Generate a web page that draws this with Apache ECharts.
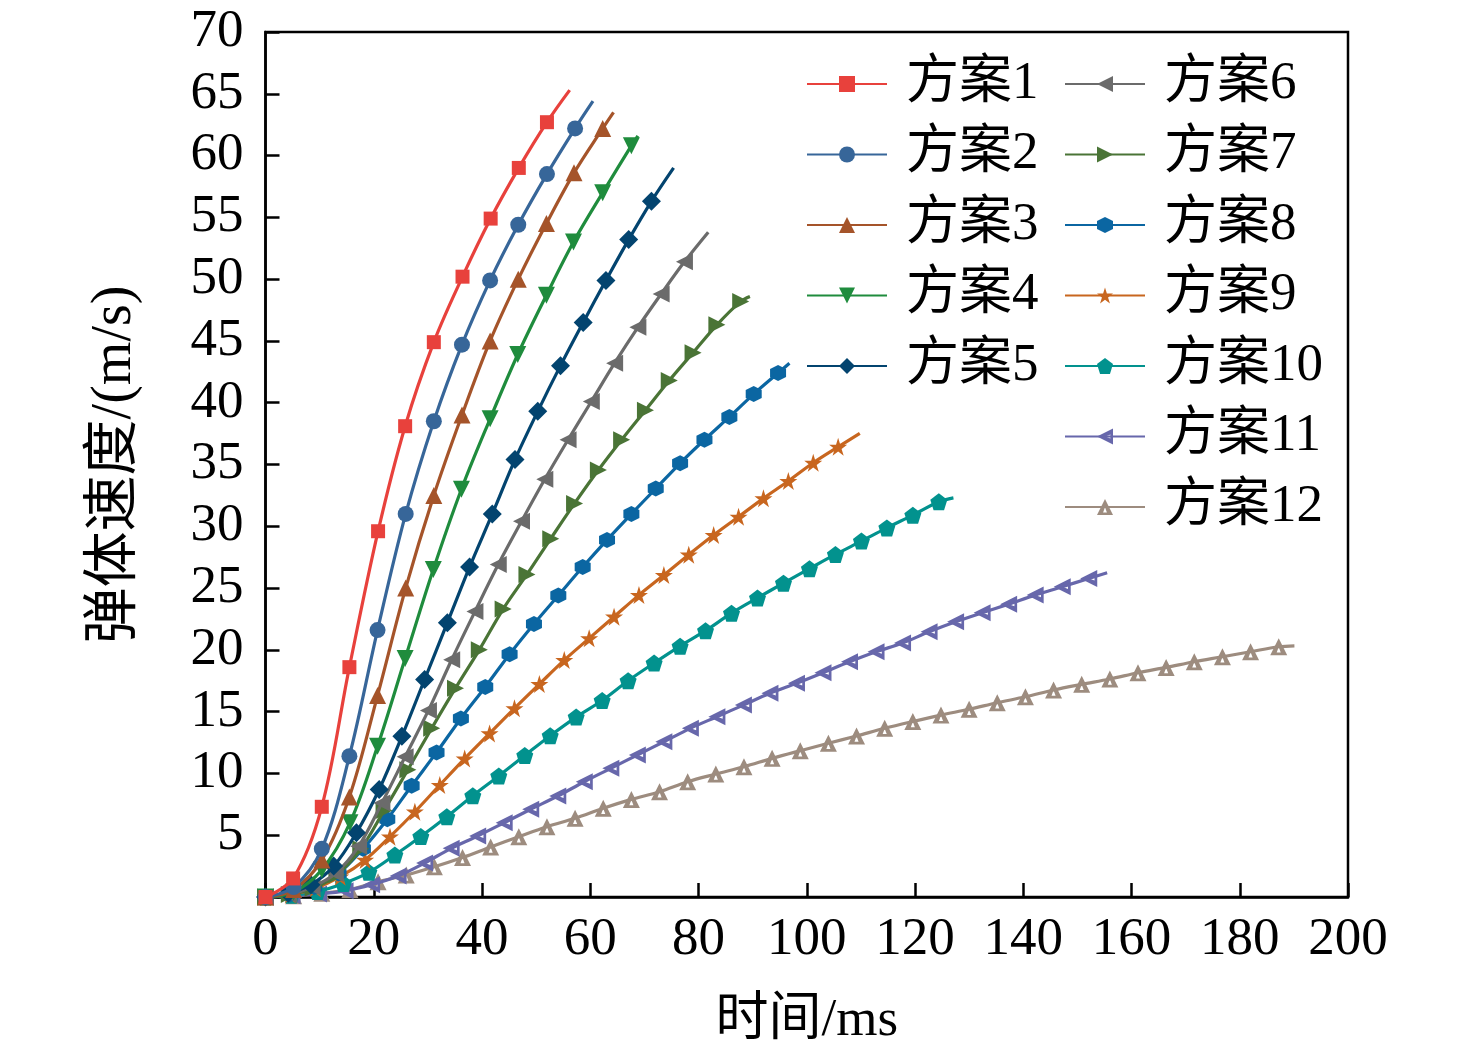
<!DOCTYPE html>
<html>
<head>
<meta charset="utf-8">
<script src="https://cdn.jsdelivr.net/npm/echarts@6/dist/echarts.min.js"></script>
<style>
  html, body { margin: 0; padding: 0; background: #fff; }
  #chart { width: 1476px; height: 1060px; }
</style>
</head>
<body>
<div id="chart"></div>
<script>
// time (ms) and velocity (m/s); last point of each list is the curve end (no marker)
const t1 = [0, 5.1, 10.4, 15.5, 20.8, 25.8, 31.1, 36.4, 41.6, 46.8, 52.0, 56.2];
const v1 = [0, 1.5, 7.3, 18.6, 29.6, 38.1, 44.9, 50.2, 54.9, 59.0, 62.7, 65.3];
const t2 = [0, 5.2, 10.4, 15.5, 20.7, 25.9, 31.1, 36.3, 41.5, 46.7, 52.0, 57.2, 60.5];
const v2 = [0, 0.8, 3.9, 11.4, 21.6, 31.0, 38.5, 44.7, 49.9, 54.4, 58.5, 62.2, 64.4];
const t3 = [0, 5.2, 10.4, 15.5, 20.7, 25.9, 31.1, 36.3, 41.5, 46.7, 51.9, 57.0, 62.3, 64.3];
const v3 = [0, 0.6, 3.0, 8.1, 16.3, 25.0, 32.5, 39.0, 45.0, 50.0, 54.5, 58.6, 62.2, 63.5];
const t4 = [0, 5.2, 10.4, 15.6, 20.7, 25.8, 31.0, 36.2, 41.5, 46.6, 51.9, 56.9, 62.3, 67.6, 68.8];
const v4 = [0, 0.4, 2.2, 6.0, 12.2, 19.3, 26.5, 33.0, 38.7, 43.9, 48.7, 53.0, 57.0, 60.8, 61.6];
const t5 = [0, 4.2, 8.4, 12.6, 16.8, 21.0, 25.2, 29.4, 33.6, 37.7, 41.9, 46.1, 50.3, 54.5, 58.7, 62.9, 67.1, 71.3, 75.4];
const v5 = [0, 0.3, 1.0, 2.5, 5.2, 8.7, 13.0, 17.6, 22.2, 26.7, 31.0, 35.4, 39.3, 43.0, 46.5, 49.9, 53.2, 56.3, 59.0];
const t6 = [0, 4.3, 8.6, 12.9, 17.2, 21.5, 25.8, 30.1, 34.4, 38.7, 43.0, 47.3, 51.6, 55.9, 60.2, 64.5, 68.8, 73.1, 77.4, 81.8];
const v6 = [0, 0.2, 0.8, 1.9, 4.1, 7.6, 11.35, 15.1, 19.2, 23.1, 26.9, 30.4, 33.8, 37.0, 40.1, 43.2, 46.1, 48.8, 51.4, 53.8];
const t7 = [0, 4.4, 8.8, 13.2, 17.6, 21.9, 26.3, 30.7, 35.1, 39.5, 43.9, 48.3, 52.7, 57.1, 61.5, 65.8, 70.2, 74.6, 79.0, 83.4, 87.8, 89.5];
const v7 = [0, 0.2, 0.7, 1.8, 3.9, 7.0, 10.3, 13.65, 16.9, 20.0, 23.3, 26.1, 29.0, 31.85, 34.55, 37.0, 39.4, 41.8, 44.05, 46.3, 48.2, 48.6];
const t8 = [0, 4.5, 9.0, 13.5, 18.0, 22.5, 27.0, 31.6, 36.1, 40.6, 45.1, 49.6, 54.1, 58.6, 63.1, 67.6, 72.1, 76.6, 81.1, 85.7, 90.2, 94.7, 96.8];
const v8 = [0, 0.2, 0.8, 1.9, 3.9, 6.3, 9.0, 11.7, 14.45, 17.0, 19.65, 22.1, 24.4, 26.7, 28.9, 31.0, 33.05, 35.1, 37.0, 38.85, 40.7, 42.4, 43.2];
const t9 = [0, 4.6, 9.2, 13.8, 18.4, 23.0, 27.6, 32.2, 36.8, 41.4, 46.0, 50.6, 55.2, 59.8, 64.4, 69.0, 73.6, 78.2, 82.8, 87.4, 92.0, 96.6, 101.2, 105.8, 109.8];
const v9 = [0, 0.2, 0.7, 1.64, 3.0, 4.88, 6.9, 9.06, 11.2, 13.24, 15.27, 17.23, 19.17, 20.93, 22.68, 24.43, 26.05, 27.7, 29.29, 30.77, 32.26, 33.66, 35.14, 36.43, 37.52];
const t10 = [0, 4.8, 9.6, 14.4, 19.1, 23.9, 28.7, 33.5, 38.3, 43.1, 47.9, 52.6, 57.4, 62.2, 67.0, 71.8, 76.6, 81.3, 86.1, 90.9, 95.7, 100.5, 105.3, 110.1, 114.8, 119.6, 124.4, 127.1];
const v10 = [0, 0.15, 0.45, 1.1, 2.0, 3.4, 4.9, 6.5, 8.2, 9.8, 11.45, 13.05, 14.56, 15.9, 17.5, 18.93, 20.3, 21.55, 22.97, 24.2, 25.4, 26.57, 27.72, 28.8, 29.87, 30.9, 31.98, 32.3];
const t11 = [0, 4.9, 9.8, 14.7, 19.6, 24.5, 29.4, 34.3, 39.2, 44.1, 49.0, 54.0, 58.9, 63.8, 68.7, 73.6, 78.5, 83.4, 88.3, 93.2, 98.1, 103.0, 107.9, 112.8, 117.7, 122.6, 127.5, 132.4, 137.3, 142.2, 147.2, 152.1, 155.5];
const v11 = [0, 0.1, 0.25, 0.5, 1.0, 1.7, 2.75, 3.94, 4.94, 6.01, 7.1, 8.17, 9.33, 10.41, 11.49, 12.56, 13.65, 14.59, 15.53, 16.48, 17.29, 18.15, 19.04, 19.85, 20.55, 21.46, 22.27, 23.0, 23.7, 24.43, 25.1, 25.78, 26.24];
const t12 = [0, 5.2, 10.4, 15.6, 20.8, 26.0, 31.2, 36.4, 41.6, 46.8, 52.0, 57.2, 62.4, 67.6, 72.8, 78.0, 83.2, 88.4, 93.6, 98.8, 104.0, 109.2, 114.4, 119.6, 124.8, 130.0, 135.2, 140.4, 145.6, 150.8, 156.0, 161.2, 166.4, 171.6, 176.8, 182.0, 187.2, 190.1];
const v12 = [0, 0.1, 0.3, 0.6, 1.24, 1.78, 2.45, 3.2, 4.05, 4.88, 5.69, 6.37, 7.18, 7.9, 8.52, 9.33, 9.95, 10.54, 11.22, 11.84, 12.44, 13.03, 13.65, 14.2, 14.72, 15.19, 15.72, 16.2, 16.75, 17.21, 17.64, 18.15, 18.58, 19.04, 19.44, 19.85, 20.25, 20.33];

const NAMES = ['方案1', '方案2', '方案3', '方案4', '方案5', '方案6', '方案7', '方案8', '方案9', '方案10', '方案11', '方案12'];
const TIMES = [t1, t2, t3, t4, t5, t6, t7, t8, t9, t10, t11, t12];
const SPEEDS = [v1, v2, v3, v4, v5, v6, v7, v8, v9, v10, v11, v12];
const X_TICKS = [0, 20, 40, 60, 80, 100, 120, 140, 160, 180, 200];
const Y_TICKS = [0, 5, 10, 15, 20, 25, 30, 35, 40, 45, 50, 55, 60, 65, 70];

const STAR = 'path://M50,0 L61.2,34.5 L97.6,34.5 L68.2,55.9 L79.4,90.5 L50,69.1 L20.6,90.5 L31.8,55.9 L2.4,34.5 L38.8,34.5 Z';
const PENTA = 'path://M50,0 L97.6,34.5 L79.4,90.5 L20.6,90.5 L2.4,34.5 Z';
const HEXA = 'path://M50,0 L93.3,25 L93.3,75 L50,100 L6.7,75 L6.7,25 Z';
// thick outlined triangle with a small hole
const OPEN_TRI = 'path://M50,0 L100,100 L0,100 Z M50,52 L38,84 L62,84 Z';

// colour, symbol, size, rotation per scheme
const STYLES = [
  ['#e8413c', 'rect', 14, 0],
  ['#376699', 'circle', 16, 0],
  ['#a5542a', 'triangle', 17, 0],
  ['#1f8c3d', 'triangle', 17, 180],
  ['#03446f', 'diamond', 19, 0],
  ['#6b6b6b', 'triangle', 17, 90],
  ['#4a7436', 'triangle', 17, -90],
  ['#0b66a2', HEXA, 16, 0],
  ['#c8661f', STAR, 18, 0],
  ['#02928e', PENTA, 17, 0],
  ['#6767ab', OPEN_TRI, 17, 90],
  ['#9d8c7f', OPEN_TRI, 17, 0]
];

const FONT = "'Liberation Serif', 'Times New Roman', 'Noto Sans CJK SC', serif";
const FS = 53;

var myChart = echarts.init(document.getElementById('chart'));

const series = NAMES.map(function (name, i) {
  const st = STYLES[i];
  const ts = TIMES[i], vs = SPEEDS[i];
  const data = ts.map(function (t, j) {
    if (j === ts.length - 1) return { value: [t, vs[j]], symbol: 'none' };
    return [t, vs[j]];
  });
  return {
    name: name,
    type: 'line',
    smooth: 0.35,
    data: data,
    symbol: st[1],
    symbolSize: st[2],
    symbolRotate: st[3],
    showAllSymbol: true,
    clip: false,
    color: st[0],
    lineStyle: { width: 3.2, color: st[0] },
    itemStyle: { color: st[0], borderWidth: 0 },
    emphasis: { disabled: true },
    z: 20 - i
  };
});

const legendBase = {
  orient: 'vertical',
  padding: 0,
  itemWidth: 80,
  itemHeight: 20,
  itemGap: 16.5,
  top: 57,
  textStyle: { fontFamily: FONT, fontSize: FS, color: '#000', lineHeight: 54, padding: [0, 0, 0, 14] }
};

myChart.setOption({
  animation: false,
  backgroundColor: '#fff',
  grid: {
    left: 265.5,
    right: 128,
    top: 32,
    bottom: 163,
    show: true,
    borderColor: '#000',
    borderWidth: 2.5
  },
  legend: [
    Object.assign({}, legendBase, { left: 806, data: NAMES.slice(0, 5) }),
    Object.assign({}, legendBase, { left: 1064, data: NAMES.slice(5) })
  ],
  xAxis: {
    type: 'value',
    min: X_TICKS[0],
    max: X_TICKS[X_TICKS.length - 1],
    interval: X_TICKS[1] - X_TICKS[0],
    name: '时间/ms',
    nameLocation: 'middle',
    nameGap: 98,
    nameTextStyle: { fontFamily: FONT, fontSize: FS, color: '#000' },
    axisLine: { onZero: false, lineStyle: { color: '#000', width: 2.5 } },
    axisTick: { inside: true, length: 14, lineStyle: { color: '#000', width: 2.5 } },
    axisLabel: { margin: 17, fontFamily: FONT, fontSize: FS, color: '#000' },
    splitLine: { show: false }
  },
  yAxis: {
    type: 'value',
    min: Y_TICKS[0],
    max: Y_TICKS[Y_TICKS.length - 1],
    interval: Y_TICKS[1] - Y_TICKS[0],
    name: '弹体速度/(m/s)',
    nameLocation: 'middle',
    nameGap: 122,
    nameTextStyle: { fontFamily: FONT, fontSize: 56, color: '#000' },
    axisLine: { onZero: false, lineStyle: { color: '#000', width: 2.5 } },
    axisTick: { inside: true, length: 14, lineStyle: { color: '#000', width: 2.5 } },
    axisLabel: {
      margin: 22,
      fontFamily: FONT,
      fontSize: FS,
      color: '#000',
      formatter: function (v) { return v === 0 ? '' : String(v); }
    },
    splitLine: { show: false }
  },
  series: series
});
</script>
</body>
</html>
